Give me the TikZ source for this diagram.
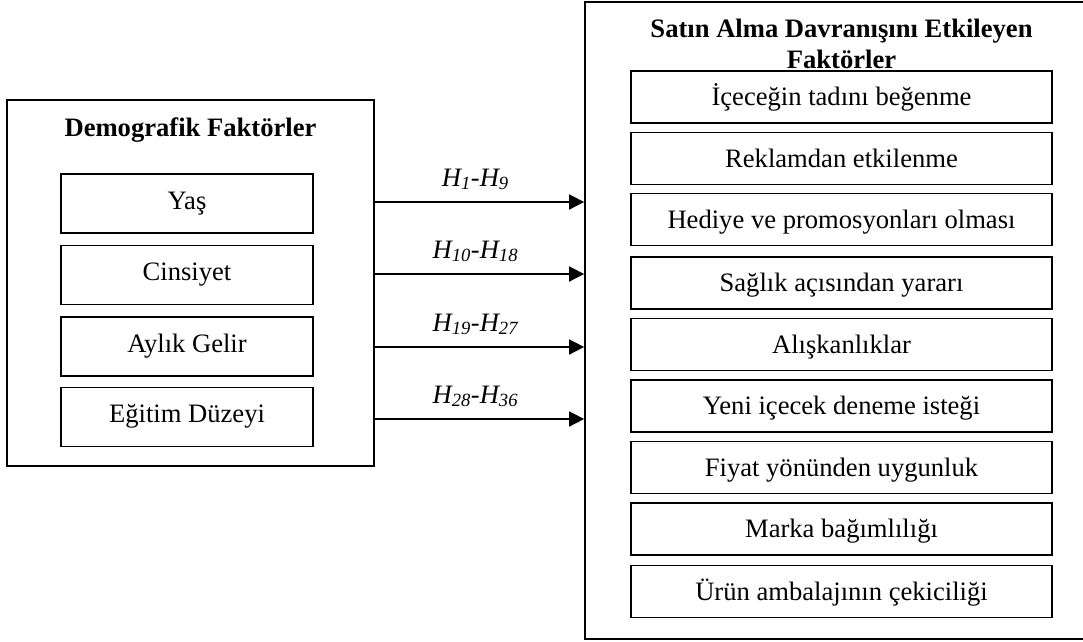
\documentclass[tikz,border=0pt]{standalone}
\usepackage{fontspec}
\setmainfont{Liberation Serif}
\usetikzlibrary{arrows.meta}
\begin{document}
\begin{tikzpicture}[x=1pt,y=-1pt,
  font=\fontsize{26.6}{31}\selectfont,
  outer/.style={draw, line width=1.8pt, inner sep=0pt},
  lbox/.style={draw, line width=1.8pt, inner sep=0pt, minimum width=252pt, minimum height=59pt, text height=17.6pt, text depth=6.6pt},
  rbox/.style={draw, line width=1.8pt, inner sep=0pt, minimum width=421pt, minimum height=52pt, text height=17.6pt, text depth=0pt},
  ttl/.style={font=\fontsize{26.6}{31}\selectfont\bfseries, anchor=base, inner sep=0pt},
  arr/.style={line width=1.8pt, -{Triangle[length=15pt,width=15pt]}},
  hyp/.style={anchor=base, inner sep=0pt, yshift=16pt, pos=0.48}]
\clip (0,0) rectangle (1083,641);
% left block
\node[outer, minimum width=367pt, minimum height=366pt] (demo) at (190.5,283) {};
\node[ttl] (demot) at (190.5,136) {Demografik Faktörler};
\node[lbox] (yas) at (187,203.5) {Yaş};
\node[lbox] (cins) at (187,275) {Cinsiyet};
\node[lbox] (gelir) at (187,346.5) {Aylık Gelir};
\node[lbox] (egit) at (187,417) {Eğitim Düzeyi};
% right block
\node[outer, minimum width=520pt, minimum height=637pt] (sat) at (845,320.5) {};
\node[ttl] (satt1) at (841.5,37) {Satın Alma Davranışını Etkileyen};
\node[ttl] (satt2) at (841.5,68) {Faktörler};
\node[rbox] (r1) at (841.5,97) {İçeceğin tadını beğenme};
\node[rbox] (r2) at (841.5,158.5) {Reklamdan etkilenme};
\node[rbox] (r3) at (841.5,219.5) {Hediye ve promosyonları olması};
\node[rbox] (r4) at (841.5,283) {Sağlık açısından yararı};
\node[rbox] (r5) at (841.5,344.5) {Alışkanlıklar};
\node[rbox] (r6) at (841.5,406) {Yeni içecek deneme isteği};
\node[rbox] (r7) at (841.5,467.5) {Fiyat yönünden uygunluk};
\node[rbox] (r8) at (841.5,529) {Marka bağımlılığı};
\node[rbox] (r9) at (841.5,591.5) {Ürün ambalajının çekiciliği};
% arrows
\draw[arr] (demo.east |- 0,202) -- node[hyp] (h1) {\textit{H\textsubscript{1}-H\textsubscript{9}}} (sat.west |- 0,202);
\draw[arr] (demo.east |- 0,274) -- node[hyp] (h2) {\textit{H\textsubscript{10}-H\textsubscript{18}}} (sat.west |- 0,274);
\draw[arr] (demo.east |- 0,347) -- node[hyp] (h3) {\textit{H\textsubscript{19}-H\textsubscript{27}}} (sat.west |- 0,347);
\draw[arr] (demo.east |- 0,419) -- node[hyp] (h4) {\textit{H\textsubscript{28}-H\textsubscript{36}}} (sat.west |- 0,419);
\end{tikzpicture}
\end{document}
